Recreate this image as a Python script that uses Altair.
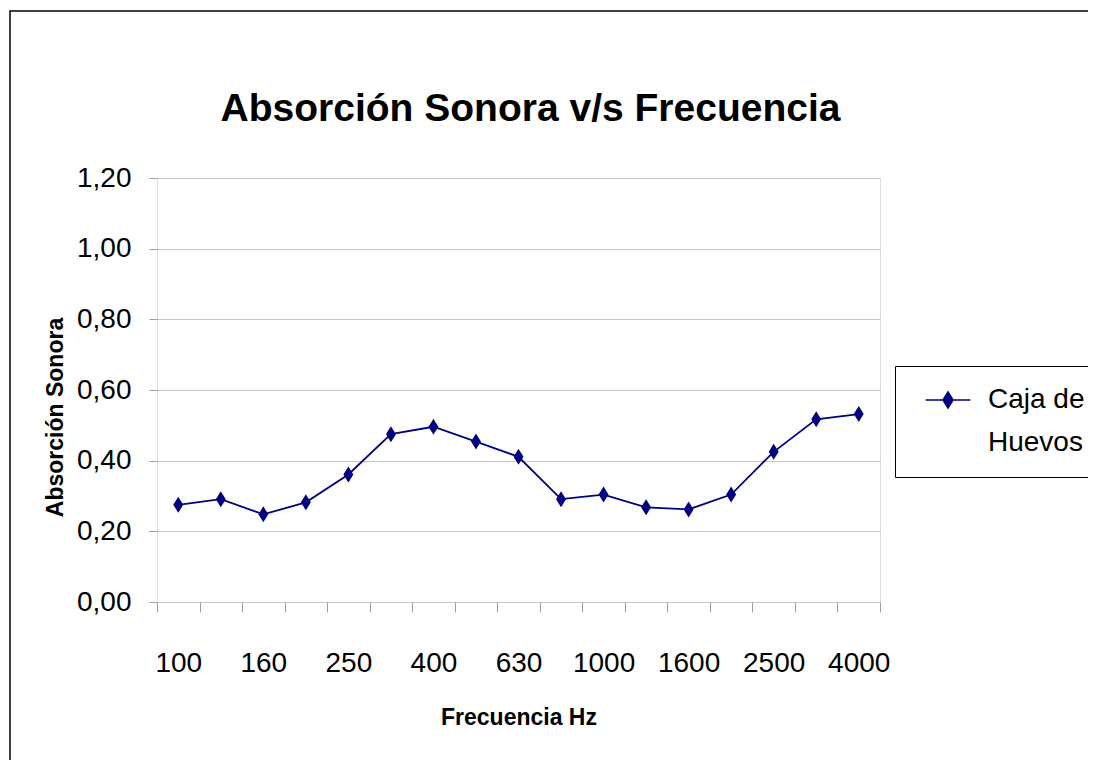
import altair as alt
import pandas as pd

freqs = ["100", "125", "160", "200", "250", "315", "400", "500", "630", "800",
         "1000", "1250", "1600", "2000", "2500", "3150", "4000"]
values = [0.275, 0.291, 0.248, 0.282, 0.361, 0.475, 0.496, 0.454, 0.411, 0.291,
          0.304, 0.268, 0.262, 0.304, 0.425, 0.517, 0.532]
series = ["Caja de Huevos"] * len(freqs)
shown_labels = ["100", "160", "250", "400", "630", "1000", "1600", "2500", "4000"]

df = pd.DataFrame({"freq": freqs, "abs": values, "serie": series})
frame_df = pd.DataFrame({"k": [0]})

FONT = "Liberation Sans, Arial, sans-serif"
NAVY = "#000080"
DIAMOND = "M0,-1L0.62,0L0,1L-0.62,0Z"
LEG_SYMBOL = "M-2.8,0L2.8,0M0,-1L0.62,0L0,1L-0.62,0Z"

label_list = "[" + ",".join("'%s'" % s for s in shown_labels) + "]"

x = alt.X("freq:N", sort=freqs, title="Frecuencia Hz",
          scale=alt.Scale(paddingInner=0, paddingOuter=0),
          axis=alt.Axis(labelAngle=0, tickBand="extent", labelPadding=37,
                        labelExpr="indexof(%s, datum.label) >= 0 ? datum.label : ''" % label_list,
                        labelFontSize=28, labelFont=FONT, labelColor="black",
                        tickSize=10, tickColor="#a0a0a0", domain=False, grid=False,
                        titleFont=FONT, titleFontSize=23, titleFontWeight="bold",
                        titleColor="black", titleY=115, titleBaseline="middle"))
y = alt.Y("abs:Q", title="Absorción Sonora",
          scale=alt.Scale(domain=[0, 1.2], nice=False),
          axis=alt.Axis(values=[0, 0.2, 0.4, 0.6, 0.8, 1.0, 1.2],
                        labelExpr="replace(format(datum.value, '.2f'), '.', ',')",
                        labelFontSize=28, labelFont=FONT, labelColor="black",
                        labelPadding=18, tickSize=8, tickColor="#a0a0a0",
                        domain=False, grid=True, gridColor="#c8c8c8",
                        titleFont=FONT, titleFontSize=23, titleFontWeight="bold",
                        titleColor="black", titleX=-102, titleY=239,
                        titleAlign="center", titleBaseline="middle", titleAngle=270))

color = alt.Color("serie:N", scale=alt.Scale(range=[NAVY]),
                  legend=alt.Legend(title=None, orient="none", legendX=738, legendY=188,
                                    strokeColor="black", padding=20,
                                    symbolType=LEG_SYMBOL, symbolSize=256,
                                    symbolFillColor=NAVY, symbolStrokeColor=NAVY,
                                    symbolStrokeWidth=1.6, symbolOffset=19,
                                    labelOffset=26, labelFont=FONT, labelFontSize=28,
                                    labelColor="black", labelLimit=300,
                                    labelExpr="['Caja de', 'Huevos']"))

line = alt.Chart(df).mark_line(strokeWidth=1.8).encode(x=x, y=y, color=color)
pts = alt.Chart(df).mark_point(shape=DIAMOND, size=256, filled=True, opacity=1).encode(
    x=x, y=y, color=alt.Color("serie:N", scale=alt.Scale(range=[NAVY]), legend=None))

frame = alt.Chart(frame_df).mark_rect(fillOpacity=0, stroke="black", strokeWidth=1.5).encode(
    x=alt.value(-147), x2=alt.value(960), y=alt.value(-167), y2=alt.value(620))

chart = alt.layer(frame, line, pts).properties(
    width=723, height=424,
    title=alt.TitleParams("Absorción Sonora v/s Frecuencia", font=FONT, fontSize=39,
                          fontWeight="bold", color="black", anchor="middle",
                          baseline="alphabetic", dx=12, dy=150, offset=0),
    autosize=alt.AutoSizeParams(type="none"),
    padding={"left": 149, "top": 170, "right": 208, "bottom": 158},
).configure_view(stroke="#909090", strokeWidth=1.5).configure(
    background="white",
    style={"guide-label": {"lineHeight": 43}},
)

chart.save("out.html", embed_options={"renderer": "svg", "actions": False})
